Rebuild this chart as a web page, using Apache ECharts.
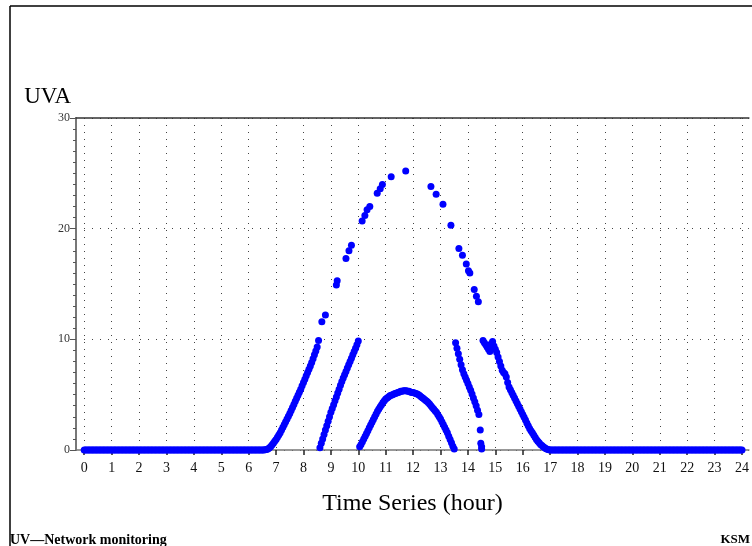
<!DOCTYPE html>
<html>
<head>
<meta charset="utf-8">
<script src="https://cdn.jsdelivr.net/npm/echarts@6/dist/echarts.min.js"></script>
<style>html,body{margin:0;padding:0;background:#fff}#c{width:752px;height:546px}</style>
</head>
<body>
<div id="c"></div>
<script>
// sampling step of the dense record (hours)
const STEP = 0.05;
const xTicks = [0,1,2,3,4,5,6,7,8,9,10,11,12,13,14,15,16,17,18,19,20,21,22,23,24];
const yTicks = [0,10,20,30];

// dense record, segment start times (hour) and values (UVA)
const morningStart = 0;
const morningVals = [0,0,0,0,0,0,0,0,0,0,0,0,0,0,0,0,0,0,0,0,0,0,0,0,0,0,0,0,0,0,0,0,0,0,0,0,0,0,0,0,0,0,0,0,0,0,0,0,0,0,0,0,0,0,0,0,0,0,0,0,0,0,0,0,0,0,0,0,0,0,0,0,0,0,0,0,0,0,0,0,0,0,0,0,0,0,0,0,0,0,0,0,0,0,0,0,0,0,0,0,0,0,0,0,0,0,0,0,0,0,0,0,0,0,0,0,0,0,0,0,0,0,0,0,0,0,0,0,0,0,0];
const rise1Start = 6.55;
const rise1Vals = [0,0.02,0.05,0.1,0.18,0.3,0.45,0.6,0.78,0.95,1.15,1.35,1.57,1.8,2.05,2.3,2.55,2.8,3.05,3.3,3.57,3.85,4.12,4.4,4.67,4.95,5.22,5.5,5.8,6.1,6.4,6.7,7.0,7.3,7.6,7.9,8.25,8.6,8.95,9.3,9.9];
const rise2Start = 8.6;
const rise2Vals = [0.2,0.6,1.0,1.4,1.8,2.2,2.6,3.0,3.4,3.75,4.1,4.45,4.8,5.15,5.5,5.85,6.2,6.5,6.8,7.1,7.4,7.7,8.0,8.3,8.6,8.9,9.2,9.5,9.85];
const humpStart = 10.05;
const humpVals = [0.3,0.5,0.75,1.0,1.25,1.5,1.75,2.0,2.25,2.5,2.75,3.0,3.25,3.5,3.7,3.9,4.1,4.3,4.45,4.6,4.7,4.8,4.9,4.95,5.0,5.05,5.1,5.15,5.2,5.25,5.3,5.3,5.35,5.35,5.35,5.3,5.3,5.25,5.2,5.2,5.15,5.1,5.05,5.0,4.9,4.8,4.7,4.6,4.5,4.4,4.3,4.15,4.0,3.85,3.7,3.55,3.4,3.2,3.0,2.8,2.55,2.3,2.05,1.8,1.55,1.25,0.95,0.65,0.35,0.1];
const fall1Start = 13.55;
const fall1Vals = [9.7,9.2,8.7,8.2,7.7,7.25,6.9,6.6,6.3,6.0,5.7,5.4,5.05,4.7,4.35,4.0,3.6,3.2,1.8,0.3];
const fall2Start = 14.55;
const fall2Vals = [9.9,9.7,9.5,9.3,9.1,8.9,9.6,9.8,9.4,9.1,8.8,8.4,8.0,7.6,7.2,7.0,6.9,6.6,6.1,5.7,5.45,5.2,4.95,4.7,4.45,4.2,3.95,3.7,3.45,3.2,2.95,2.7,2.45,2.2,1.95,1.75,1.55,1.35,1.15,0.95,0.8,0.65,0.5,0.4,0.3,0.2,0.12,0.06,0.02];
const eveningStart = 17;
const eveningVals = [0,0,0,0,0,0,0,0,0,0,0,0,0,0,0,0,0,0,0,0,0,0,0,0,0,0,0,0,0,0,0,0,0,0,0,0,0,0,0,0,0,0,0,0,0,0,0,0,0,0,0,0,0,0,0,0,0,0,0,0,0,0,0,0,0,0,0,0,0,0,0,0,0,0,0,0,0,0,0,0,0,0,0,0,0,0,0,0,0,0,0,0,0,0,0,0,0,0,0,0,0,0,0,0,0,0,0,0,0,0,0,0,0,0,0,0,0,0,0,0,0,0,0,0,0,0,0,0,0,0,0,0,0,0,0,0,0,0,0,0,0];

// sparse readings above 10
const upperT = [8.67,8.8,9.2,9.23,9.55,9.66,9.75,10.14,10.24,10.32,10.42,10.69,10.8,10.88,11.2,11.73,12.65,12.84,13.09,13.38,13.67,13.8,13.94,14.02,14.07,14.23,14.31,14.38];
const upperV = [11.6,12.2,14.9,15.3,17.3,18.0,18.5,20.7,21.2,21.7,22.0,23.2,23.6,24.0,24.7,25.2,23.8,23.1,22.2,20.3,18.2,17.6,16.8,16.2,16.0,14.5,13.9,13.4];
// isolated low readings near 14.5 h
const tailT = [14.47,14.5];
const tailV = [0.6,0.1];

const segments = [
  [morningStart, morningVals],[rise1Start, rise1Vals],[rise2Start, rise2Vals],
  [humpStart, humpVals],[fall1Start, fall1Vals],[fall2Start, fall2Vals],[eveningStart, eveningVals]
];
const pts = [];
segments.forEach(([s, vals]) => vals.forEach((v, i) => pts.push([+(s + i*STEP).toFixed(3), v])));
upperT.forEach((t, i) => pts.push([t, upperV[i]]));
tailT.forEach((t, i) => pts.push([t, tailV[i]]));

const serif = 'Liberation Serif';
const chart = echarts.init(document.getElementById('c'), null, {renderer: 'canvas'});
chart.setOption({
  animation: false,
  backgroundColor: '#fff',
  grid: {left: 76, right: 0, top: 118, bottom: 96, containLabel: false},
  xAxis: [{
    type: 'value', min: -0.3, max: 24.25,
    name: 'Time Series (hour)', nameLocation: 'middle', nameGap: 42,
    nameTextStyle: {fontFamily: serif, fontSize: 24, color: '#000'},
    axisLine: {show: true, onZero: false, lineStyle: {color: '#777', width: 1.5}},
    axisTick: {show: true, customValues: xTicks, length: 5, lineStyle: {color: '#222', width: 1.5}},
    axisLabel: {customValues: xTicks, fontFamily: serif, fontSize: 14, color: '#111', margin: 11},
    splitLine: {show: true, lineStyle: {color: '#444', width: 1, type: [1, 6]}}
  }, {
    type: 'value', position: 'top', min: -0.3, max: 24.25,
    axisLine: {show: true, onZero: false, lineStyle: {color: '#333', width: 1.5}},
    axisTick: {show: false}, axisLabel: {show: false}, splitLine: {show: false}
  }],
  yAxis: {
    type: 'value', min: 0, max: 30, interval: 10,
    name: 'UVA', nameLocation: 'end', nameGap: 10,
    nameTextStyle: {fontFamily: serif, fontSize: 23, color: '#000', align: 'right', padding: [0, 5, 0, 0]},
    axisLine: {show: true, onZero: false, lineStyle: {color: '#777', width: 2}},
    axisTick: {show: true, length: 6, lineStyle: {color: '#555'}},
    minorTick: {show: true, splitNumber: 10, length: 3, lineStyle: {color: '#555'}},
    axisLabel: {fontFamily: serif, fontSize: 12, color: '#333', margin: 6},
    splitLine: {show: true, lineStyle: {color: '#444', width: 1, type: [1, 7]}}
  },
  series: [{
    type: 'scatter', data: pts, symbol: 'circle', symbolSize: 7,
    itemStyle: {color: '#0000ff', opacity: 1}, z: 5
  }],
  graphic: [
    {type: 'line', shape: {x1: 10, y1: 6, x2: 752, y2: 6}, style: {stroke: '#000', lineWidth: 1.5}},
    {type: 'line', shape: {x1: 10, y1: 6, x2: 10, y2: 546}, style: {stroke: '#000', lineWidth: 1.5}},
    {type: 'text', left: 10, top: 533, style: {text: 'UV\u2014Network monitoring', font: 'bold 14px "Liberation Serif"', fill: '#000'}},
    {type: 'text', right: 2, top: 533, style: {text: 'KSM', font: 'bold 13px "Liberation Serif"', fill: '#000'}}
  ]
});
</script>
</body>
</html>
